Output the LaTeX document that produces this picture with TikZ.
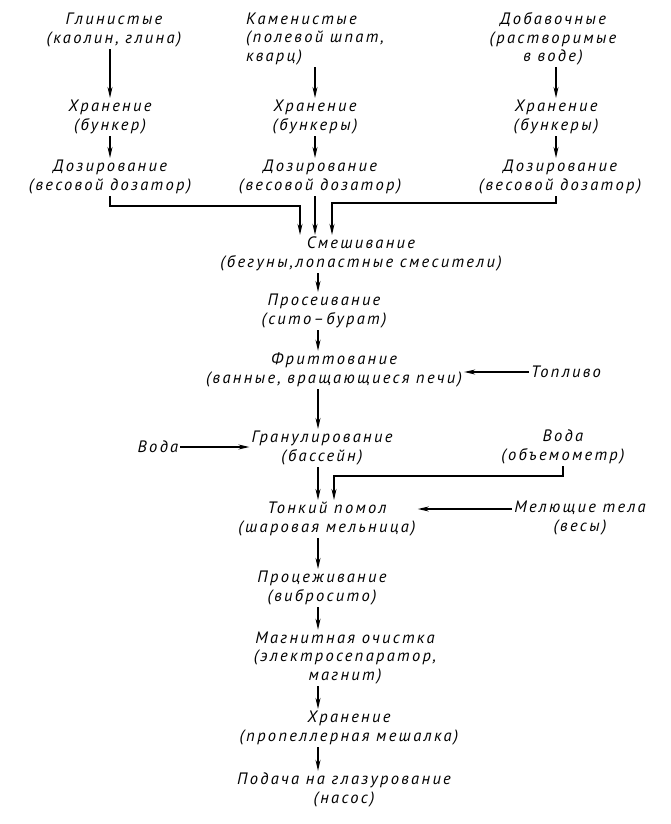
\documentclass[tikz,border=0pt]{standalone}
\usepackage{fontspec}
\setmainfont{PT Sans}[LetterSpace=14]
\usetikzlibrary{arrows.meta}

\begin{document}
\begin{tikzpicture}[x=1pt,y=-1pt,
    lbl/.style={align=center, font=\fontsize{16.5}{18.5}\selectfont\itshape, inner sep=2pt},
    arr/.style={line width=1.3pt, -{Stealth[length=11pt,width=5pt]}}]

    \useasboundingbox (0,0) rectangle (670,824);

    % raw materials
    \node[lbl] (clay) at (114,30) {Глинистые\\(каолин, глина)};
    \node[lbl, align=left, anchor=west] (stone) at (244,39) {Каменистые\\(полевой шпат,\\кварц)};
    \node[lbl] (addit) at (553,39) {Добавочные\\(растворимые\\в воде)};

    % storage
    \node[lbl] (storL) at (110,117) {Хранение\\(бункер)};
    \node[lbl] (storM) at (315,117) {Хранение\\(бункеры)};
    \node[lbl] (storR) at (556,117) {Хранение\\(бункеры)};

    % dosing
    \node[lbl] (doseL) at (110,177) {Дозирование\\(весовой дозатор)};
    \node[lbl] (doseM) at (320,177) {Дозирование\\(весовой дозатор)};
    \node[lbl] (doseR) at (560,177) {Дозирование\\(весовой дозатор)};

    % main line
    \coordinate (axis) at (318,0);
    \node[lbl] (mix) at (361,254) {Смешивание\\(бегуны,лопастные смесители)};
    \node[lbl] (sift) at (324,311) {Просеивание\\(сито–бурат)};
    \node[lbl] (frit) at (334,370) {Фриттование\\(ванные, вращающиеся печи)};
    \node[lbl] (fuel) at (566,372) {Топливо};
    \node[lbl] (gran) at (322,448) {Гранулирование\\(бассейн)};
    \node[lbl] (waterL) at (158,447) {Вода};
    \node[lbl] (waterR) at (563,447) {Вода\\(объемометр)};
    \node[lbl] (mill) at (327,519) {Тонкий помол\\(шаровая мельница)};
    \node[lbl] (balls) at (580,518) {Мелющие тела\\(весы)};
    \node[lbl] (strain) at (322,588) {Процеживание\\(вибросито)};
    \node[lbl] (magn) at (345,658) {Магнитная очистка\\(электросепаратор,\\магнит)};
    \node[lbl] (store) at (349,728) {Хранение\\(пропеллерная мешалка)};
    \node[lbl] (feed) at (344,790) {Подача на глазурование\\(насос)};

    % side columns
    \draw[arr] (clay.south -| storL) -- (storL.north);
    \draw[arr] (storL.south) -- (storL.south |- doseL.north);
    \draw[arr] (stone.south -| storM) -- (storM.north);
    \draw[arr] (storM.south) -- (storM.south |- doseM.north);
    \draw[arr] (addit.south -| storR) -- (storR.north);
    \draw[arr] (storR.south) -- (storR.south |- doseR.north);

    % to mixing
    \coordinate (jL) at (300,206);
    \coordinate (jR) at (332,203);
    \draw[arr] (doseL.south -| storL) |- (jL) -- (mix.north -| jL);
    \draw[arr] (doseM.south -| storM) -- (mix.north -| storM);
    \draw[arr] (doseR.south -| storR) |- (jR) -- (mix.north -| jR);

    \draw[arr] (mix.south -| axis) -- (sift.north -| axis);
    \draw[arr] (sift.south -| axis) -- (frit.north -| axis);
    \draw[arr] (fuel.west) -- (frit.east |- fuel.west);
    \draw[arr] (frit.south -| axis) -- (gran.north -| axis);
    \draw[arr] (waterL.east) -- (gran.west |- waterL.east);
    \draw[arr] (gran.south -| axis) -- (mill.north -| axis);

    \coordinate (jW) at (334,476);
    \draw[arr] (waterR.south) |- (jW) -- (mill.north -| jW);
    \coordinate (ballsIn) at ([yshift=9pt]balls.west);
    \draw[arr] (ballsIn) -- (mill.east |- ballsIn);

    \draw[arr] (mill.south -| axis) -- (strain.north -| axis);
    \draw[arr] (strain.south -| axis) -- (magn.north -| axis);
    \draw[arr] (magn.south -| axis) -- (store.north -| axis);
    \draw[arr] (store.south -| axis) -- (feed.north -| axis);

\end{tikzpicture}
\end{document}
